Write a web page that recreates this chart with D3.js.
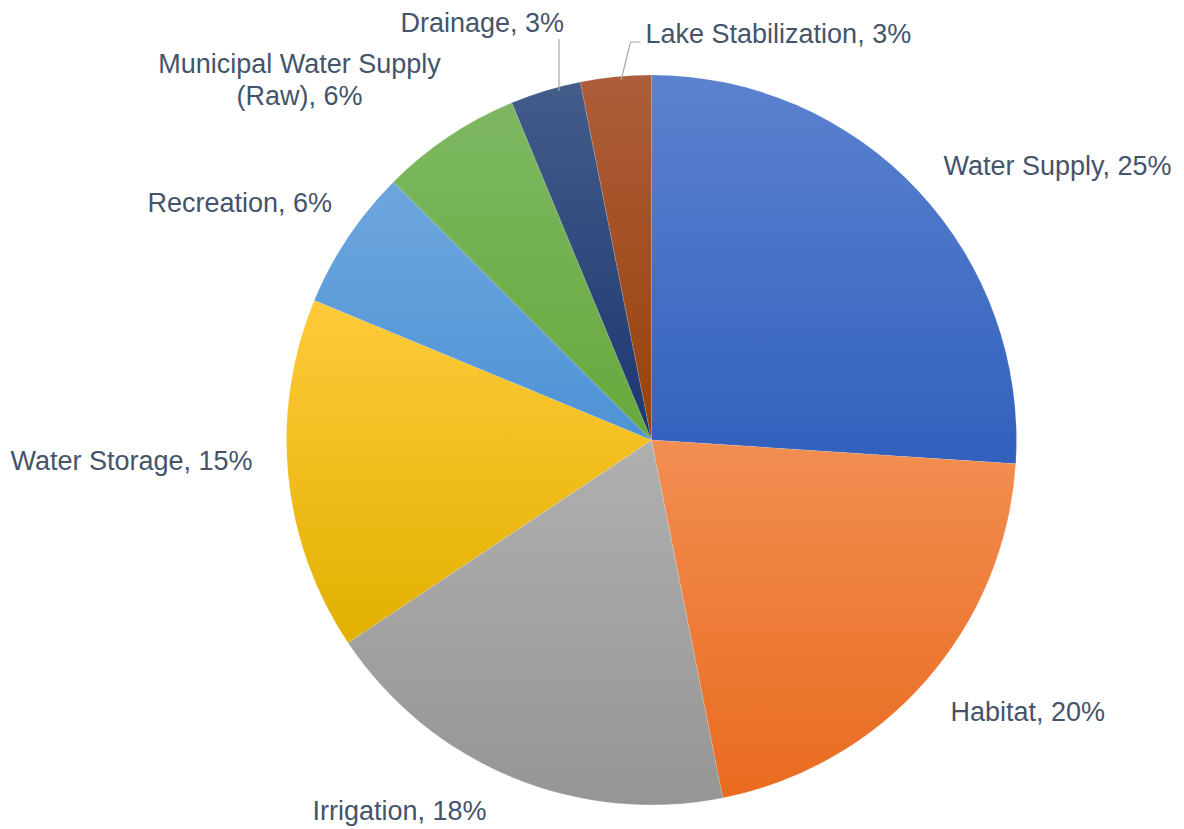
<!DOCTYPE html>
<html>
<head>
<meta charset="utf-8">
<script src="https://cdn.jsdelivr.net/npm/d3@7"></script>
<style>
  html, body { margin: 0; padding: 0; background: #ffffff; }
  svg { display: block; }
  .lbl { font-family: "Liberation Sans", Arial, Helvetica, sans-serif; font-size: 27px; fill: #44546a; }
</style>
</head>
<body>
<svg id="chart" width="1184" height="829"></svg>
<script>
// Share of water use by purpose (percent, as labelled)
const categories = ["Water Supply", "Habitat", "Irrigation", "Water Storage",
                    "Recreation", "Municipal Water Supply (Raw)", "Drainage", "Lake Stabilization"];
const shares = [25, 20, 18, 15, 6, 6, 3, 3];

// Slice fills: light top / dark bottom of each gradient
const topColors    = ["#5b82cf", "#f28e52", "#b0b0b0", "#ffca3a", "#6ea6de", "#7db862", "#435c8a", "#ac5d3a"];
const bottomColors = ["#3160bd", "#e96b1f", "#959595", "#e2b000", "#4e93d6", "#68a83c", "#1c3770", "#98410a"];

// Label anchor offsets from the pie centre, with text anchoring and line breaks
const labelLayout = [
  { dx: 292,  dy: -265, anchor: "start",  lines: ["Water Supply, 25%"] },
  { dx: 299,  dy: 281,  anchor: "start",  lines: ["Habitat, 20%"] },
  { dx: -339, dy: 380,  anchor: "start",  lines: ["Irrigation, 18%"] },
  { dx: -641, dy: 30,   anchor: "start",  lines: ["Water Storage, 15%"] },
  { dx: -504, dy: -228, anchor: "start",  lines: ["Recreation, 6%"] },
  { dx: -352, dy: -367, anchor: "middle", lines: ["Municipal Water Supply", "(Raw), 6%"] },
  { dx: -251, dy: -408, anchor: "start",  lines: ["Drainage, 3%"] },
  { dx: -6,   dy: -397, anchor: "start",  lines: ["Lake Stabilization, 3%"] }
];

const cx = 651.5, cy = 440, radius = 365;

const svg = d3.select("#chart");
const defs = svg.append("defs");

const data = categories.map((c, i) => ({ name: c, value: shares[i], i }));

const pie = d3.pie().value(d => d.value).sort(null);
const arcs = pie(data);
const arc = d3.arc().innerRadius(0).outerRadius(radius);

arcs.forEach(a => {
  const g = defs.append("linearGradient")
    .attr("id", "grad" + a.data.i)
    .attr("x1", 0).attr("y1", 0).attr("x2", 0).attr("y2", 1);
  g.append("stop").attr("offset", "0%").attr("stop-color", topColors[a.data.i]);
  g.append("stop").attr("offset", "100%").attr("stop-color", bottomColors[a.data.i]);
});

const root = svg.append("g").attr("transform", `translate(${cx},${cy})`);

root.selectAll("path.slice")
  .data(arcs)
  .join("path")
  .attr("class", "slice")
  .attr("d", arc)
  .attr("fill", d => `url(#grad${d.data.i})`)
  .attr("stroke", "rgba(255,255,255,0.2)")
  .attr("stroke-width", 0.6);

// Leader lines for the two narrow slices at the top
function edgePoint(a, frac) {
  const ang = a.startAngle + (a.endAngle - a.startAngle) * frac;
  return [Math.sin(ang) * (radius - 4), -Math.cos(ang) * (radius - 4)];
}
const drainArc = arcs[6], lakeArc = arcs[7];
const dp = edgePoint(drainArc, 0.68);
root.append("path")
  .attr("d", d3.line()([dp, [dp[0], labelLayout[6].dy + 7]]))
  .attr("fill", "none").attr("stroke", "#a6a6a6").attr("stroke-width", 1.2);
const lp = edgePoint(lakeArc, 0.57);
root.append("path")
  .attr("d", d3.line()([lp, [labelLayout[7].dx - 15, labelLayout[7].dy - 1], [labelLayout[7].dx - 5, labelLayout[7].dy - 1]]))
  .attr("fill", "none").attr("stroke", "#a6a6a6").attr("stroke-width", 1.2);

// Data labels
arcs.forEach(a => {
  const L = labelLayout[a.data.i];
  const t = root.append("text")
    .attr("class", "lbl")
    .attr("text-anchor", L.anchor)
    .attr("x", L.dx).attr("y", L.dy);
  L.lines.forEach((s, k) => {
    t.append("tspan").attr("x", L.dx).attr("dy", k === 0 ? 0 : 32).text(s);
  });
});
</script>
</body>
</html>
